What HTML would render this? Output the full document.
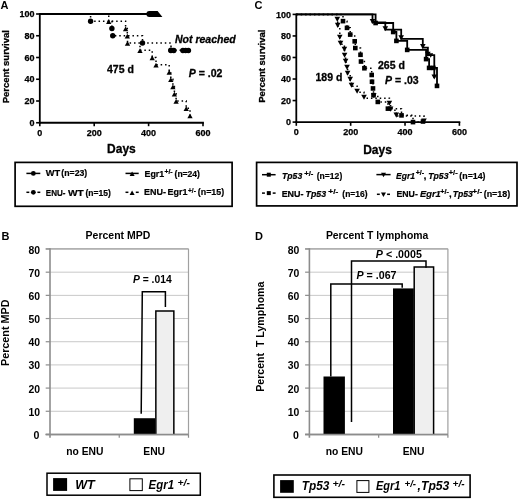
<!DOCTYPE html>
<html><head><meta charset="utf-8"><style>
html,body{margin:0;padding:0;background:#fff;width:520px;height:504px;overflow:hidden}
svg{display:block;filter:grayscale(1)}
text{font-family:"Liberation Sans", sans-serif;fill:#000}
</style></head><body>
<svg width="520" height="504" viewBox="0 0 520 504">
<rect width="520" height="504" fill="#fff"/>
<text x="0.60" y="9.10" font-size="11" font-weight="bold" font-style="normal" text-anchor="start" >A</text>
<line x1="39.80" y1="13.20" x2="39.80" y2="123.60" stroke="#000" stroke-width="1.8" stroke-linecap="butt"/>
<line x1="38.90" y1="122.75" x2="203.90" y2="122.75" stroke="#000" stroke-width="1.8" stroke-linecap="butt"/>
<line x1="36.10" y1="122.75" x2="39.80" y2="122.75" stroke="#000" stroke-width="1.6" stroke-linecap="butt"/>
<text x="34.60" y="125.95" font-size="9" font-weight="bold" font-style="normal" text-anchor="end" stroke="#000" stroke-width="0.25">0</text>
<line x1="36.10" y1="101.00" x2="39.80" y2="101.00" stroke="#000" stroke-width="1.6" stroke-linecap="butt"/>
<text x="34.60" y="104.20" font-size="9" font-weight="bold" font-style="normal" text-anchor="end" stroke="#000" stroke-width="0.25">20</text>
<line x1="36.10" y1="79.25" x2="39.80" y2="79.25" stroke="#000" stroke-width="1.6" stroke-linecap="butt"/>
<text x="34.60" y="82.45" font-size="9" font-weight="bold" font-style="normal" text-anchor="end" stroke="#000" stroke-width="0.25">40</text>
<line x1="36.10" y1="57.50" x2="39.80" y2="57.50" stroke="#000" stroke-width="1.6" stroke-linecap="butt"/>
<text x="34.60" y="60.70" font-size="9" font-weight="bold" font-style="normal" text-anchor="end" stroke="#000" stroke-width="0.25">60</text>
<line x1="36.10" y1="35.75" x2="39.80" y2="35.75" stroke="#000" stroke-width="1.6" stroke-linecap="butt"/>
<text x="34.60" y="38.95" font-size="9" font-weight="bold" font-style="normal" text-anchor="end" stroke="#000" stroke-width="0.25">80</text>
<line x1="36.10" y1="14.00" x2="39.80" y2="14.00" stroke="#000" stroke-width="1.6" stroke-linecap="butt"/>
<text x="34.60" y="17.20" font-size="9" font-weight="bold" font-style="normal" text-anchor="end" stroke="#000" stroke-width="0.25">100</text>
<line x1="39.80" y1="122.75" x2="39.80" y2="126.20" stroke="#000" stroke-width="1.6" stroke-linecap="butt"/>
<text x="39.80" y="136.00" font-size="9" font-weight="bold" font-style="normal" text-anchor="middle" stroke="#000" stroke-width="0.25">0</text>
<line x1="94.20" y1="122.75" x2="94.20" y2="126.20" stroke="#000" stroke-width="1.6" stroke-linecap="butt"/>
<text x="94.20" y="136.00" font-size="9" font-weight="bold" font-style="normal" text-anchor="middle" stroke="#000" stroke-width="0.25">200</text>
<line x1="148.60" y1="122.75" x2="148.60" y2="126.20" stroke="#000" stroke-width="1.6" stroke-linecap="butt"/>
<text x="148.60" y="136.00" font-size="9" font-weight="bold" font-style="normal" text-anchor="middle" stroke="#000" stroke-width="0.25">400</text>
<line x1="203.00" y1="122.75" x2="203.00" y2="126.20" stroke="#000" stroke-width="1.6" stroke-linecap="butt"/>
<text x="203.00" y="136.00" font-size="9" font-weight="bold" font-style="normal" text-anchor="middle" stroke="#000" stroke-width="0.25">600</text>
<text x="121.40" y="153.40" font-size="12" font-weight="bold" font-style="normal" text-anchor="middle" stroke="#000" stroke-width="0.3">Days</text>
<text transform="translate(9.3,66.7) rotate(-90)" font-size="9.6" font-weight="bold" stroke="#000" stroke-width="0.3" text-anchor="middle" textLength="73.2" lengthAdjust="spacingAndGlyphs">Percent survival</text>
<line x1="39.80" y1="13.90" x2="155.00" y2="13.90" stroke="#000" stroke-width="2.0" stroke-linecap="butt"/>
<path d="M149.3,11.1 L157.6,11.1 L162.4,16.9 L149.3,16.9 A2.9,2.9 0 0 1 149.3,11.1 Z" fill="#000"/>
<polyline points="39.80,14.00 90.60,14.00 90.60,21.25 111.90,21.25 111.90,28.50 112.75,28.50 112.75,35.75 142.50,35.75 142.50,43.00 171.00,43.00 171.00,50.25 188.00,50.25" fill="none" stroke="#000" stroke-width="1.5" stroke-linecap="butt" stroke-linejoin="miter" stroke-dasharray="1.5 2.9"/>
<circle cx="90.60" cy="21.25" r="2.7" fill="#000"/>
<circle cx="111.90" cy="28.50" r="2.7" fill="#000"/>
<circle cx="112.75" cy="35.75" r="2.7" fill="#000"/>
<circle cx="142.50" cy="43.00" r="2.7" fill="#000"/>
<circle cx="171.00" cy="50.25" r="2.7" fill="#000"/>
<circle cx="170.90" cy="50.45" r="2.75" fill="#000"/>
<circle cx="173.80" cy="50.45" r="2.75" fill="#000"/>
<circle cx="182.90" cy="50.45" r="2.75" fill="#000"/>
<circle cx="185.60" cy="50.45" r="2.75" fill="#000"/>
<circle cx="188.40" cy="50.45" r="2.75" fill="#000"/>
<polyline points="39.80,14.00 108.75,14.00 108.75,21.25 125.60,21.25 125.60,28.50 127.30,28.50 127.30,35.75 127.50,35.75 127.50,43.00 140.00,43.00 140.00,50.25 152.20,50.25 152.20,57.50 156.00,57.50 156.00,64.75 169.20,64.75 169.20,72.00 170.80,72.00 170.80,79.25 172.90,79.25 172.90,86.50 174.40,86.50 174.40,93.75 176.10,93.75 176.10,101.00 186.20,101.00 186.20,108.25 190.00,108.25 190.00,115.50 193.00,115.50" fill="none" stroke="#000" stroke-width="1.5" stroke-linecap="butt" stroke-linejoin="miter" stroke-dasharray="1.5 2.9"/>
<polygon points="108.75,19.34 106.10,24.11 111.40,24.11" fill="#000"/>
<polygon points="125.60,26.59 122.95,31.36 128.25,31.36" fill="#000"/>
<polygon points="127.30,33.84 124.65,38.61 129.95,38.61" fill="#000"/>
<polygon points="127.50,41.09 124.85,45.86 130.15,45.86" fill="#000"/>
<polygon points="140.00,48.34 137.35,53.11 142.65,53.11" fill="#000"/>
<polygon points="152.20,55.59 149.55,60.36 154.85,60.36" fill="#000"/>
<polygon points="156.00,62.84 153.35,67.61 158.65,67.61" fill="#000"/>
<polygon points="169.20,70.09 166.55,74.86 171.85,74.86" fill="#000"/>
<polygon points="170.80,77.34 168.15,82.11 173.45,82.11" fill="#000"/>
<polygon points="172.90,84.59 170.25,89.36 175.55,89.36" fill="#000"/>
<polygon points="174.40,91.84 171.75,96.61 177.05,96.61" fill="#000"/>
<polygon points="176.10,99.09 173.45,103.86 178.75,103.86" fill="#000"/>
<polygon points="186.20,106.34 183.55,111.11 188.85,111.11" fill="#000"/>
<polygon points="190.00,113.59 187.35,118.36 192.65,118.36" fill="#000"/>
<rect x="15.10" y="162.40" width="217.00" height="43.90" fill="none" stroke="#000" stroke-width="1.7"/>
<line x1="26.40" y1="173.40" x2="40.30" y2="173.40" stroke="#000" stroke-width="1.5" stroke-linecap="butt"/>
<circle cx="33.35" cy="173.40" r="2.4" fill="#000"/>
<line x1="26.40" y1="192.30" x2="29.30" y2="192.30" stroke="#000" stroke-width="1.5" stroke-linecap="butt"/>
<line x1="37.40" y1="192.30" x2="40.30" y2="192.30" stroke="#000" stroke-width="1.5" stroke-linecap="butt"/>
<circle cx="33.35" cy="192.30" r="2.4" fill="#000"/>
<line x1="125.50" y1="173.40" x2="138.70" y2="173.40" stroke="#000" stroke-width="1.5" stroke-linecap="butt"/>
<polygon points="132.10,171.60 129.60,176.10 134.60,176.10" fill="#000"/>
<line x1="125.50" y1="192.30" x2="128.40" y2="192.30" stroke="#000" stroke-width="1.5" stroke-linecap="butt"/>
<line x1="135.80" y1="192.30" x2="138.70" y2="192.30" stroke="#000" stroke-width="1.5" stroke-linecap="butt"/>
<polygon points="132.10,190.50 129.60,195.00 134.60,195.00" fill="#000"/>
<text x="45.85" y="176.40" font-size="8.7" font-weight="bold" font-style="normal" textLength="14.40" lengthAdjust="spacingAndGlyphs" stroke="#000" stroke-width="0.2">WT</text>
<text x="61.35" y="176.40" font-size="8.7" font-weight="bold" font-style="normal" textLength="25.90" lengthAdjust="spacingAndGlyphs" stroke="#000" stroke-width="0.2">(n=23)</text>
<text x="45.85" y="195.50" font-size="8.7" font-weight="bold" font-style="normal" textLength="19.70" lengthAdjust="spacingAndGlyphs" stroke="#000" stroke-width="0.2">ENU-</text>
<text x="67.95" y="195.50" font-size="8.7" font-weight="bold" font-style="normal" textLength="15.80" lengthAdjust="spacingAndGlyphs" stroke="#000" stroke-width="0.2">WT</text>
<text x="85.45" y="195.50" font-size="8.7" font-weight="bold" font-style="normal" textLength="25.40" lengthAdjust="spacingAndGlyphs" stroke="#000" stroke-width="0.2">(n=15)</text>
<text x="144.55" y="176.50" font-size="8.7" font-weight="bold" font-style="normal" textLength="19.70" lengthAdjust="spacingAndGlyphs" stroke="#000" stroke-width="0.2">Egr1</text>
<text x="164.45" y="174.00" font-size="6.8" font-weight="bold" font-style="normal" textLength="8.20" lengthAdjust="spacingAndGlyphs" stroke="#000" stroke-width="0.2">+/-</text>
<text x="174.55" y="176.50" font-size="8.7" font-weight="bold" font-style="normal" textLength="25.40" lengthAdjust="spacingAndGlyphs" stroke="#000" stroke-width="0.2">(n=24)</text>
<text x="144.05" y="195.30" font-size="8.7" font-weight="bold" font-style="normal" textLength="22.00" lengthAdjust="spacingAndGlyphs" stroke="#000" stroke-width="0.2">ENU-</text>
<text x="167.55" y="195.30" font-size="8.7" font-weight="bold" font-style="normal" textLength="19.90" lengthAdjust="spacingAndGlyphs" stroke="#000" stroke-width="0.2">Egr1</text>
<text x="188.05" y="192.80" font-size="6.8" font-weight="bold" font-style="normal" textLength="7.80" lengthAdjust="spacingAndGlyphs" stroke="#000" stroke-width="0.2">+/-</text>
<text x="197.75" y="195.30" font-size="8.7" font-weight="bold" font-style="normal" textLength="26.40" lengthAdjust="spacingAndGlyphs" stroke="#000" stroke-width="0.2">(n=15)</text>
<text x="175.00" y="42.70" font-size="10.5" font-weight="bold" font-style="italic" text-anchor="start" stroke="#000" stroke-width="0.3">Not reached</text>
<text x="107.00" y="72.70" font-size="10.5" font-weight="bold" font-style="normal" text-anchor="start" stroke="#000" stroke-width="0.3">475 d</text>
<text x="188.80" y="76.80" font-size="10.5" font-weight="bold" font-style="normal" text-anchor="start" stroke="#000" stroke-width="0.3"><tspan font-style="italic">P</tspan> = .02</text>
<text x="254.50" y="9.40" font-size="11" font-weight="bold" font-style="normal" text-anchor="start" >C</text>
<line x1="296.30" y1="13.60" x2="296.30" y2="123.00" stroke="#000" stroke-width="1.8" stroke-linecap="butt"/>
<line x1="295.40" y1="122.10" x2="460.30" y2="122.10" stroke="#000" stroke-width="1.8" stroke-linecap="butt"/>
<line x1="292.60" y1="122.10" x2="296.30" y2="122.10" stroke="#000" stroke-width="1.6" stroke-linecap="butt"/>
<text x="291.10" y="125.30" font-size="9" font-weight="bold" font-style="normal" text-anchor="end" stroke="#000" stroke-width="0.25">0</text>
<line x1="292.60" y1="100.56" x2="296.30" y2="100.56" stroke="#000" stroke-width="1.6" stroke-linecap="butt"/>
<text x="291.10" y="103.76" font-size="9" font-weight="bold" font-style="normal" text-anchor="end" stroke="#000" stroke-width="0.25">20</text>
<line x1="292.60" y1="79.02" x2="296.30" y2="79.02" stroke="#000" stroke-width="1.6" stroke-linecap="butt"/>
<text x="291.10" y="82.22" font-size="9" font-weight="bold" font-style="normal" text-anchor="end" stroke="#000" stroke-width="0.25">40</text>
<line x1="292.60" y1="57.48" x2="296.30" y2="57.48" stroke="#000" stroke-width="1.6" stroke-linecap="butt"/>
<text x="291.10" y="60.68" font-size="9" font-weight="bold" font-style="normal" text-anchor="end" stroke="#000" stroke-width="0.25">60</text>
<line x1="292.60" y1="35.94" x2="296.30" y2="35.94" stroke="#000" stroke-width="1.6" stroke-linecap="butt"/>
<text x="291.10" y="39.14" font-size="9" font-weight="bold" font-style="normal" text-anchor="end" stroke="#000" stroke-width="0.25">80</text>
<line x1="292.60" y1="14.40" x2="296.30" y2="14.40" stroke="#000" stroke-width="1.6" stroke-linecap="butt"/>
<text x="291.10" y="17.60" font-size="9" font-weight="bold" font-style="normal" text-anchor="end" stroke="#000" stroke-width="0.25">100</text>
<line x1="296.30" y1="122.10" x2="296.30" y2="125.80" stroke="#000" stroke-width="1.6" stroke-linecap="butt"/>
<text x="296.30" y="135.00" font-size="9" font-weight="bold" font-style="normal" text-anchor="middle" stroke="#000" stroke-width="0.25">0</text>
<line x1="350.67" y1="122.10" x2="350.67" y2="125.80" stroke="#000" stroke-width="1.6" stroke-linecap="butt"/>
<text x="350.67" y="135.00" font-size="9" font-weight="bold" font-style="normal" text-anchor="middle" stroke="#000" stroke-width="0.25">200</text>
<line x1="405.03" y1="122.10" x2="405.03" y2="125.80" stroke="#000" stroke-width="1.6" stroke-linecap="butt"/>
<text x="405.03" y="135.00" font-size="9" font-weight="bold" font-style="normal" text-anchor="middle" stroke="#000" stroke-width="0.25">400</text>
<line x1="459.40" y1="122.10" x2="459.40" y2="125.80" stroke="#000" stroke-width="1.6" stroke-linecap="butt"/>
<text x="459.40" y="135.00" font-size="9" font-weight="bold" font-style="normal" text-anchor="middle" stroke="#000" stroke-width="0.25">600</text>
<text x="377.50" y="154.00" font-size="12" font-weight="bold" font-style="normal" text-anchor="middle" stroke="#000" stroke-width="0.3">Days</text>
<text transform="translate(264.8,66.2) rotate(-90)" font-size="9.6" font-weight="bold" stroke="#000" stroke-width="0.3" text-anchor="middle" textLength="73.2" lengthAdjust="spacingAndGlyphs">Percent survival</text>
<polyline points="296.30,14.40 375.60,14.40 375.60,23.00 393.20,23.00 393.20,32.00 396.40,32.00 396.40,40.90 407.20,40.90 407.20,49.90 426.10,49.90 426.10,59.10 429.10,59.10 429.10,67.90 437.00,67.90 437.00,85.90" fill="none" stroke="#000" stroke-width="1.8" stroke-linecap="butt" stroke-linejoin="miter"/>
<rect x="373.30" y="20.70" width="4.6" height="4.6" fill="#000"/>
<rect x="390.90" y="29.70" width="4.6" height="4.6" fill="#000"/>
<rect x="394.10" y="38.60" width="4.6" height="4.6" fill="#000"/>
<rect x="404.90" y="47.60" width="4.6" height="4.6" fill="#000"/>
<rect x="423.80" y="56.80" width="4.6" height="4.6" fill="#000"/>
<rect x="426.80" y="65.60" width="4.6" height="4.6" fill="#000"/>
<rect x="434.70" y="83.60" width="4.6" height="4.6" fill="#000"/>
<rect x="431.00" y="65.60" width="4.6" height="4.6" fill="#000"/>
<polyline points="296.30,14.40 372.50,14.40 372.50,22.40 385.30,22.40 385.30,29.70 401.20,29.70 401.20,38.80 422.80,38.80 422.80,47.60 427.90,47.60 427.90,55.20 434.30,55.20 434.30,78.00" fill="none" stroke="#000" stroke-width="1.8" stroke-linecap="butt" stroke-linejoin="miter"/>
<polygon points="372.50,23.92 369.70,18.88 375.30,18.88" fill="#000"/>
<polygon points="385.30,31.22 382.50,26.18 388.10,26.18" fill="#000"/>
<polygon points="401.20,40.32 398.40,35.28 404.00,35.28" fill="#000"/>
<polygon points="422.80,49.12 420.00,44.08 425.60,44.08" fill="#000"/>
<polygon points="427.90,56.72 425.10,51.68 430.70,51.68" fill="#000"/>
<polygon points="434.30,79.52 431.50,74.48 437.10,74.48" fill="#000"/>
<polygon points="430.70,57.70 428.20,53.20 433.20,53.20" fill="#000"/>
<polyline points="296.30,14.40 343.00,14.40 343.00,21.13 347.00,21.13 347.00,27.86 350.20,27.86 350.20,34.59 354.70,34.59 354.70,41.33 355.30,41.33 355.30,48.06 360.50,48.06 360.50,54.79 361.00,54.79 361.00,61.52 364.40,61.52 364.40,68.25 371.70,68.25 371.70,74.98 372.00,74.98 372.00,81.71 373.00,81.71 373.00,88.44 373.50,88.44 373.50,95.17 377.80,95.17 377.80,101.91 387.90,101.91 387.90,108.64 401.50,108.64 401.50,115.37 413.00,115.37 413.00,122.10 423.00,122.10" fill="none" stroke="#000" stroke-width="1.5" stroke-linecap="butt" stroke-linejoin="miter" stroke-dasharray="1.5 2.9"/>
<rect x="340.70" y="18.83" width="4.6" height="4.6" fill="#000"/>
<rect x="344.70" y="25.56" width="4.6" height="4.6" fill="#000"/>
<rect x="347.90" y="32.29" width="4.6" height="4.6" fill="#000"/>
<rect x="352.40" y="39.03" width="4.6" height="4.6" fill="#000"/>
<rect x="353.00" y="45.76" width="4.6" height="4.6" fill="#000"/>
<rect x="358.20" y="52.49" width="4.6" height="4.6" fill="#000"/>
<rect x="358.70" y="59.22" width="4.6" height="4.6" fill="#000"/>
<rect x="362.10" y="65.95" width="4.6" height="4.6" fill="#000"/>
<rect x="369.40" y="72.68" width="4.6" height="4.6" fill="#000"/>
<rect x="369.70" y="79.41" width="4.6" height="4.6" fill="#000"/>
<rect x="370.70" y="86.14" width="4.6" height="4.6" fill="#000"/>
<rect x="371.20" y="92.88" width="4.6" height="4.6" fill="#000"/>
<rect x="375.50" y="99.61" width="4.6" height="4.6" fill="#000"/>
<rect x="385.60" y="106.34" width="4.6" height="4.6" fill="#000"/>
<rect x="399.20" y="113.07" width="4.6" height="4.6" fill="#000"/>
<rect x="410.70" y="119.80" width="4.6" height="4.6" fill="#000"/>
<rect x="420.70" y="119.20" width="4.6" height="4.6" fill="#000"/>
<polyline points="296.30,14.40 337.30,14.40 337.30,20.38 337.70,20.38 337.70,26.37 339.80,26.37 339.80,38.33 340.50,38.33 340.50,44.32 344.40,44.32 344.40,50.30 344.60,50.30 344.60,56.28 345.60,56.28 345.60,62.27 347.00,62.27 347.00,68.25 347.60,68.25 347.60,74.23 350.20,74.23 350.20,80.22 351.50,80.22 351.50,86.20 357.10,86.20 357.10,92.18 364.00,92.18 364.00,98.17 389.40,98.17 389.40,104.15 390.60,104.15 390.60,110.13 396.30,110.13 396.30,116.12 424.00,116.12 424.00,122.10" fill="none" stroke="#000" stroke-width="1.5" stroke-linecap="butt" stroke-linejoin="miter" stroke-dasharray="1.5 2.9"/>
<polygon points="337.30,21.91 334.50,16.87 340.10,16.87" fill="#000"/>
<polygon points="337.70,27.89 334.90,22.85 340.50,22.85" fill="#000"/>
<polygon points="339.80,39.86 337.00,34.82 342.60,34.82" fill="#000"/>
<polygon points="340.50,45.84 337.70,40.80 343.30,40.80" fill="#000"/>
<polygon points="344.40,51.82 341.60,46.78 347.20,46.78" fill="#000"/>
<polygon points="344.60,57.81 341.80,52.77 347.40,52.77" fill="#000"/>
<polygon points="345.60,63.79 342.80,58.75 348.40,58.75" fill="#000"/>
<polygon points="347.00,69.77 344.20,64.73 349.80,64.73" fill="#000"/>
<polygon points="347.60,75.76 344.80,70.72 350.40,70.72" fill="#000"/>
<polygon points="350.20,81.74 347.40,76.70 353.00,76.70" fill="#000"/>
<polygon points="351.50,87.72 348.70,82.68 354.30,82.68" fill="#000"/>
<polygon points="357.10,93.71 354.30,88.67 359.90,88.67" fill="#000"/>
<polygon points="364.00,99.69 361.20,94.65 366.80,94.65" fill="#000"/>
<polygon points="389.40,105.67 386.60,100.63 392.20,100.63" fill="#000"/>
<polygon points="390.60,111.66 387.80,106.62 393.40,106.62" fill="#000"/>
<polygon points="396.30,117.64 393.50,112.60 399.10,112.60" fill="#000"/>
<polygon points="424.00,123.62 421.20,118.58 426.80,118.58" fill="#000"/>
<polygon points="373.80,98.22 371.00,93.18 376.60,93.18" fill="#000"/>
<text x="378.00" y="69.10" font-size="10.5" font-weight="bold" font-style="normal" text-anchor="start" stroke="#000" stroke-width="0.3">265 d</text>
<text x="315.50" y="80.70" font-size="10.5" font-weight="bold" font-style="normal" text-anchor="start" stroke="#000" stroke-width="0.3">189 d</text>
<text x="385.00" y="83.60" font-size="10.5" font-weight="bold" font-style="normal" text-anchor="start" stroke="#000" stroke-width="0.3"><tspan font-style="italic">P</tspan> = .03</text>
<rect x="256.60" y="162.40" width="260.40" height="43.50" fill="none" stroke="#000" stroke-width="1.7"/>
<line x1="262.00" y1="174.70" x2="275.60" y2="174.70" stroke="#000" stroke-width="1.5" stroke-linecap="butt"/>
<rect x="266.80" y="172.70" width="4.0" height="4.0" fill="#000"/>
<line x1="262.00" y1="193.10" x2="264.90" y2="193.10" stroke="#000" stroke-width="1.5" stroke-linecap="butt"/>
<line x1="272.70" y1="193.10" x2="275.60" y2="193.10" stroke="#000" stroke-width="1.5" stroke-linecap="butt"/>
<rect x="266.80" y="191.10" width="4.0" height="4.0" fill="#000"/>
<line x1="376.40" y1="174.60" x2="390.60" y2="174.60" stroke="#000" stroke-width="1.5" stroke-linecap="butt"/>
<polygon points="383.50,177.30 381.00,172.80 386.00,172.80" fill="#000"/>
<line x1="376.90" y1="194.30" x2="379.80" y2="194.30" stroke="#000" stroke-width="1.5" stroke-linecap="butt"/>
<line x1="387.10" y1="194.30" x2="390.00" y2="194.30" stroke="#000" stroke-width="1.5" stroke-linecap="butt"/>
<polygon points="383.45,197.00 380.95,192.50 385.95,192.50" fill="#000"/>
<text x="282.05" y="178.80" font-size="8.7" font-weight="bold" font-style="italic" textLength="20.20" lengthAdjust="spacingAndGlyphs" stroke="#000" stroke-width="0.2">Tp53</text>
<text x="304.15" y="176.00" font-size="6.8" font-weight="bold" font-style="normal" textLength="9.20" lengthAdjust="spacingAndGlyphs" stroke="#000" stroke-width="0.2">+/-</text>
<text x="316.75" y="178.80" font-size="8.7" font-weight="bold" font-style="normal" textLength="25.50" lengthAdjust="spacingAndGlyphs" stroke="#000" stroke-width="0.2">(n=12)</text>
<text x="281.65" y="197.20" font-size="8.7" font-weight="bold" font-style="normal" textLength="21.90" lengthAdjust="spacingAndGlyphs" stroke="#000" stroke-width="0.2">ENU-</text>
<text x="305.55" y="197.20" font-size="8.7" font-weight="bold" font-style="italic" textLength="20.60" lengthAdjust="spacingAndGlyphs" stroke="#000" stroke-width="0.2">Tp53</text>
<text x="328.35" y="194.00" font-size="6.8" font-weight="bold" font-style="normal" textLength="9.90" lengthAdjust="spacingAndGlyphs" stroke="#000" stroke-width="0.2">+/-</text>
<text x="342.35" y="197.20" font-size="8.7" font-weight="bold" font-style="normal" textLength="25.20" lengthAdjust="spacingAndGlyphs" stroke="#000" stroke-width="0.2">(n=16)</text>
<text x="396.05" y="178.50" font-size="8.7" font-weight="bold" font-style="italic" textLength="18.90" lengthAdjust="spacingAndGlyphs" stroke="#000" stroke-width="0.2">Egr1</text>
<text x="415.75" y="174.80" font-size="6.8" font-weight="bold" font-style="normal" textLength="8.40" lengthAdjust="spacingAndGlyphs" stroke="#000" stroke-width="0.2">+/-</text>
<text x="423.55" y="178.50" font-size="8.7" font-weight="bold" font-style="normal" textLength="3.00" lengthAdjust="spacingAndGlyphs" stroke="#000" stroke-width="0.2">,</text>
<text x="428.25" y="178.50" font-size="8.7" font-weight="bold" font-style="italic" textLength="20.30" lengthAdjust="spacingAndGlyphs" stroke="#000" stroke-width="0.2">Tp53</text>
<text x="448.75" y="174.80" font-size="6.8" font-weight="bold" font-style="normal" textLength="8.90" lengthAdjust="spacingAndGlyphs" stroke="#000" stroke-width="0.2">+/-</text>
<text x="459.35" y="178.50" font-size="8.7" font-weight="bold" font-style="normal" textLength="26.20" lengthAdjust="spacingAndGlyphs" stroke="#000" stroke-width="0.2">(n=14)</text>
<text x="396.45" y="197.20" font-size="8.7" font-weight="bold" font-style="normal" textLength="21.40" lengthAdjust="spacingAndGlyphs" stroke="#000" stroke-width="0.2">ENU-</text>
<text x="420.05" y="197.20" font-size="8.7" font-weight="bold" font-style="italic" textLength="20.70" lengthAdjust="spacingAndGlyphs" stroke="#000" stroke-width="0.2">Egr1</text>
<text x="440.35" y="193.60" font-size="6.8" font-weight="bold" font-style="normal" textLength="8.70" lengthAdjust="spacingAndGlyphs" stroke="#000" stroke-width="0.2">+/-</text>
<text x="449.05" y="197.20" font-size="8.7" font-weight="bold" font-style="normal" textLength="2.70" lengthAdjust="spacingAndGlyphs" stroke="#000" stroke-width="0.2">,</text>
<text x="452.65" y="197.20" font-size="8.7" font-weight="bold" font-style="italic" textLength="20.20" lengthAdjust="spacingAndGlyphs" stroke="#000" stroke-width="0.2">Tp53</text>
<text x="472.35" y="193.60" font-size="6.8" font-weight="bold" font-style="normal" textLength="9.80" lengthAdjust="spacingAndGlyphs" stroke="#000" stroke-width="0.2">+/-</text>
<text x="483.65" y="197.20" font-size="8.7" font-weight="bold" font-style="normal" textLength="26.70" lengthAdjust="spacingAndGlyphs" stroke="#000" stroke-width="0.2">(n=18)</text>
<line x1="50.00" y1="411.27" x2="188.50" y2="411.27" stroke="#c8c8c8" stroke-width="1.0" stroke-linecap="butt"/>
<line x1="50.00" y1="388.09" x2="188.50" y2="388.09" stroke="#c8c8c8" stroke-width="1.0" stroke-linecap="butt"/>
<line x1="50.00" y1="364.91" x2="188.50" y2="364.91" stroke="#c8c8c8" stroke-width="1.0" stroke-linecap="butt"/>
<line x1="50.00" y1="341.73" x2="188.50" y2="341.73" stroke="#c8c8c8" stroke-width="1.0" stroke-linecap="butt"/>
<line x1="50.00" y1="318.54" x2="188.50" y2="318.54" stroke="#c8c8c8" stroke-width="1.0" stroke-linecap="butt"/>
<line x1="50.00" y1="295.36" x2="188.50" y2="295.36" stroke="#c8c8c8" stroke-width="1.0" stroke-linecap="butt"/>
<line x1="50.00" y1="272.18" x2="188.50" y2="272.18" stroke="#c8c8c8" stroke-width="1.0" stroke-linecap="butt"/>
<line x1="50.00" y1="249.00" x2="188.50" y2="249.00" stroke="#c8c8c8" stroke-width="1.0" stroke-linecap="butt"/>
<line x1="188.50" y1="248.80" x2="188.50" y2="434.45" stroke="#a0a0a0" stroke-width="1.2" stroke-linecap="butt"/>
<line x1="45.70" y1="248.80" x2="188.50" y2="248.80" stroke="#a0a0a0" stroke-width="1.2" stroke-linecap="butt"/>
<line x1="50.00" y1="248.20" x2="50.00" y2="437.75" stroke="#8c8c8c" stroke-width="1.6" stroke-linecap="butt"/>
<line x1="45.70" y1="434.45" x2="188.50" y2="434.45" stroke="#8c8c8c" stroke-width="1.6" stroke-linecap="butt"/>
<line x1="45.70" y1="434.45" x2="50.00" y2="434.45" stroke="#8c8c8c" stroke-width="1.2" stroke-linecap="butt"/>
<text x="39.40" y="438.85" font-size="10.3" font-weight="bold" font-style="normal" text-anchor="end" textLength="5.9" lengthAdjust="spacingAndGlyphs">0</text>
<line x1="45.70" y1="411.27" x2="50.00" y2="411.27" stroke="#8c8c8c" stroke-width="1.2" stroke-linecap="butt"/>
<text x="40.00" y="415.77" font-size="10.3" font-weight="bold" font-style="normal" text-anchor="end" textLength="11.6" lengthAdjust="spacingAndGlyphs">10</text>
<line x1="45.70" y1="388.09" x2="50.00" y2="388.09" stroke="#8c8c8c" stroke-width="1.2" stroke-linecap="butt"/>
<text x="40.00" y="392.59" font-size="10.3" font-weight="bold" font-style="normal" text-anchor="end" textLength="11.6" lengthAdjust="spacingAndGlyphs">20</text>
<line x1="45.70" y1="364.91" x2="50.00" y2="364.91" stroke="#8c8c8c" stroke-width="1.2" stroke-linecap="butt"/>
<text x="40.00" y="369.41" font-size="10.3" font-weight="bold" font-style="normal" text-anchor="end" textLength="11.6" lengthAdjust="spacingAndGlyphs">30</text>
<line x1="45.70" y1="341.73" x2="50.00" y2="341.73" stroke="#8c8c8c" stroke-width="1.2" stroke-linecap="butt"/>
<text x="40.00" y="346.23" font-size="10.3" font-weight="bold" font-style="normal" text-anchor="end" textLength="11.6" lengthAdjust="spacingAndGlyphs">40</text>
<line x1="45.70" y1="318.54" x2="50.00" y2="318.54" stroke="#8c8c8c" stroke-width="1.2" stroke-linecap="butt"/>
<text x="40.00" y="323.04" font-size="10.3" font-weight="bold" font-style="normal" text-anchor="end" textLength="11.6" lengthAdjust="spacingAndGlyphs">50</text>
<line x1="45.70" y1="295.36" x2="50.00" y2="295.36" stroke="#8c8c8c" stroke-width="1.2" stroke-linecap="butt"/>
<text x="40.00" y="299.86" font-size="10.3" font-weight="bold" font-style="normal" text-anchor="end" textLength="11.6" lengthAdjust="spacingAndGlyphs">60</text>
<line x1="45.70" y1="272.18" x2="50.00" y2="272.18" stroke="#8c8c8c" stroke-width="1.2" stroke-linecap="butt"/>
<text x="40.00" y="276.68" font-size="10.3" font-weight="bold" font-style="normal" text-anchor="end" textLength="11.6" lengthAdjust="spacingAndGlyphs">70</text>
<line x1="45.70" y1="249.00" x2="50.00" y2="249.00" stroke="#8c8c8c" stroke-width="1.2" stroke-linecap="butt"/>
<text x="40.00" y="253.50" font-size="10.3" font-weight="bold" font-style="normal" text-anchor="end" textLength="11.6" lengthAdjust="spacingAndGlyphs">80</text>
<line x1="119.25" y1="434.45" x2="119.25" y2="437.75" stroke="#8c8c8c" stroke-width="1.2" stroke-linecap="butt"/>
<line x1="188.50" y1="434.45" x2="188.50" y2="437.75" stroke="#8c8c8c" stroke-width="1.2" stroke-linecap="butt"/>
<text x="85.60" y="239.40" font-size="10.3" font-weight="bold" font-style="normal" text-anchor="start" textLength="64.8" lengthAdjust="spacingAndGlyphs">Percent MPD</text>
<text x="84.92" y="454.80" font-size="10.3" font-weight="bold" font-style="normal" text-anchor="middle" >no ENU</text>
<text x="154.18" y="454.80" font-size="10.3" font-weight="bold" font-style="normal" text-anchor="middle" >ENU</text>
<text transform="translate(8.60,332.8) rotate(-90)" font-size="10.3" font-weight="bold" text-anchor="middle" textLength="66.5" lengthAdjust="spacingAndGlyphs">Percent MPD</text>
<text x="1.50" y="240.00" font-size="11" font-weight="bold" font-style="normal" text-anchor="start" >B</text>
<rect x="133.80" y="418.22" width="21.30" height="16.23" fill="#000"/>
<rect x="155.85" y="310.89" width="18.00" height="123.56" fill="#efefef"/>
<polyline points="155.85,434.45 155.85,310.89 173.85,310.89 173.85,434.45" fill="none" stroke="#000" stroke-width="1.5" stroke-linecap="butt" stroke-linejoin="miter"/>
<polyline points="141.20,413.80 142.30,291.80 165.40,291.80 165.40,307.00" fill="none" stroke="#000" stroke-width="1.5" stroke-linecap="butt" stroke-linejoin="miter"/>
<text x="133.00" y="283.00" font-size="10.3" font-weight="bold" font-style="normal" text-anchor="start" ><tspan font-style="italic">P</tspan> = .014</text>
<line x1="45.70" y1="434.45" x2="188.50" y2="434.45" stroke="#8c8c8c" stroke-width="1.6" stroke-linecap="butt"/>
<rect x="47.00" y="473.20" width="153.30" height="22.00" fill="#fff" stroke="#000" stroke-width="1.5"/>
<rect x="53.10" y="478.10" width="14.00" height="12.80" fill="#000"/>
<rect x="129.90" y="478.80" width="12.40" height="11.80" fill="#fff" stroke="#000" stroke-width="1.0"/>
<text x="75.20" y="488.90" font-size="12.2" font-weight="bold" font-style="italic" text-anchor="start" textLength="19.6" lengthAdjust="spacingAndGlyphs">WT</text>
<text x="148.60" y="488.90" font-size="12.2" font-weight="bold" font-style="italic" text-anchor="start" textLength="25.4" lengthAdjust="spacingAndGlyphs">Egr1</text>
<text x="177.50" y="485.60" font-size="8.2" font-weight="bold" font-style="italic" text-anchor="start" textLength="12.4" lengthAdjust="spacingAndGlyphs">+/-</text>
<line x1="309.40" y1="411.27" x2="447.90" y2="411.27" stroke="#c8c8c8" stroke-width="1.0" stroke-linecap="butt"/>
<line x1="309.40" y1="388.09" x2="447.90" y2="388.09" stroke="#c8c8c8" stroke-width="1.0" stroke-linecap="butt"/>
<line x1="309.40" y1="364.91" x2="447.90" y2="364.91" stroke="#c8c8c8" stroke-width="1.0" stroke-linecap="butt"/>
<line x1="309.40" y1="341.73" x2="447.90" y2="341.73" stroke="#c8c8c8" stroke-width="1.0" stroke-linecap="butt"/>
<line x1="309.40" y1="318.54" x2="447.90" y2="318.54" stroke="#c8c8c8" stroke-width="1.0" stroke-linecap="butt"/>
<line x1="309.40" y1="295.36" x2="447.90" y2="295.36" stroke="#c8c8c8" stroke-width="1.0" stroke-linecap="butt"/>
<line x1="309.40" y1="272.18" x2="447.90" y2="272.18" stroke="#c8c8c8" stroke-width="1.0" stroke-linecap="butt"/>
<line x1="309.40" y1="249.00" x2="447.90" y2="249.00" stroke="#c8c8c8" stroke-width="1.0" stroke-linecap="butt"/>
<line x1="447.90" y1="248.80" x2="447.90" y2="434.45" stroke="#a0a0a0" stroke-width="1.2" stroke-linecap="butt"/>
<line x1="305.10" y1="248.80" x2="447.90" y2="248.80" stroke="#a0a0a0" stroke-width="1.2" stroke-linecap="butt"/>
<line x1="309.40" y1="248.20" x2="309.40" y2="437.75" stroke="#8c8c8c" stroke-width="1.6" stroke-linecap="butt"/>
<line x1="305.10" y1="434.45" x2="447.90" y2="434.45" stroke="#8c8c8c" stroke-width="1.6" stroke-linecap="butt"/>
<line x1="305.10" y1="434.45" x2="309.40" y2="434.45" stroke="#8c8c8c" stroke-width="1.2" stroke-linecap="butt"/>
<text x="298.80" y="438.85" font-size="10.3" font-weight="bold" font-style="normal" text-anchor="end" textLength="5.9" lengthAdjust="spacingAndGlyphs">0</text>
<line x1="305.10" y1="411.27" x2="309.40" y2="411.27" stroke="#8c8c8c" stroke-width="1.2" stroke-linecap="butt"/>
<text x="299.40" y="415.77" font-size="10.3" font-weight="bold" font-style="normal" text-anchor="end" textLength="11.6" lengthAdjust="spacingAndGlyphs">10</text>
<line x1="305.10" y1="388.09" x2="309.40" y2="388.09" stroke="#8c8c8c" stroke-width="1.2" stroke-linecap="butt"/>
<text x="299.40" y="392.59" font-size="10.3" font-weight="bold" font-style="normal" text-anchor="end" textLength="11.6" lengthAdjust="spacingAndGlyphs">20</text>
<line x1="305.10" y1="364.91" x2="309.40" y2="364.91" stroke="#8c8c8c" stroke-width="1.2" stroke-linecap="butt"/>
<text x="299.40" y="369.41" font-size="10.3" font-weight="bold" font-style="normal" text-anchor="end" textLength="11.6" lengthAdjust="spacingAndGlyphs">30</text>
<line x1="305.10" y1="341.73" x2="309.40" y2="341.73" stroke="#8c8c8c" stroke-width="1.2" stroke-linecap="butt"/>
<text x="299.40" y="346.23" font-size="10.3" font-weight="bold" font-style="normal" text-anchor="end" textLength="11.6" lengthAdjust="spacingAndGlyphs">40</text>
<line x1="305.10" y1="318.54" x2="309.40" y2="318.54" stroke="#8c8c8c" stroke-width="1.2" stroke-linecap="butt"/>
<text x="299.40" y="323.04" font-size="10.3" font-weight="bold" font-style="normal" text-anchor="end" textLength="11.6" lengthAdjust="spacingAndGlyphs">50</text>
<line x1="305.10" y1="295.36" x2="309.40" y2="295.36" stroke="#8c8c8c" stroke-width="1.2" stroke-linecap="butt"/>
<text x="299.40" y="299.86" font-size="10.3" font-weight="bold" font-style="normal" text-anchor="end" textLength="11.6" lengthAdjust="spacingAndGlyphs">60</text>
<line x1="305.10" y1="272.18" x2="309.40" y2="272.18" stroke="#8c8c8c" stroke-width="1.2" stroke-linecap="butt"/>
<text x="299.40" y="276.68" font-size="10.3" font-weight="bold" font-style="normal" text-anchor="end" textLength="11.6" lengthAdjust="spacingAndGlyphs">70</text>
<line x1="305.10" y1="249.00" x2="309.40" y2="249.00" stroke="#8c8c8c" stroke-width="1.2" stroke-linecap="butt"/>
<text x="299.40" y="253.50" font-size="10.3" font-weight="bold" font-style="normal" text-anchor="end" textLength="11.6" lengthAdjust="spacingAndGlyphs">80</text>
<line x1="378.65" y1="434.45" x2="378.65" y2="437.75" stroke="#8c8c8c" stroke-width="1.2" stroke-linecap="butt"/>
<line x1="447.90" y1="434.45" x2="447.90" y2="437.75" stroke="#8c8c8c" stroke-width="1.2" stroke-linecap="butt"/>
<text x="325.90" y="239.40" font-size="10.3" font-weight="bold" font-style="normal" text-anchor="start" textLength="102.4" lengthAdjust="spacingAndGlyphs">Percent T lymphoma</text>
<text x="344.32" y="454.80" font-size="10.3" font-weight="bold" font-style="normal" text-anchor="middle" >no ENU</text>
<text x="413.57" y="454.80" font-size="10.3" font-weight="bold" font-style="normal" text-anchor="middle" >ENU</text>
<text transform="translate(263.60,336.7) rotate(-90)" font-size="10.3" font-weight="bold" text-anchor="middle" textLength="110.2" lengthAdjust="spacingAndGlyphs">Percent&#160; T Lymphoma</text>
<text x="255.00" y="240.00" font-size="11" font-weight="bold" font-style="normal" text-anchor="start" >D</text>
<rect x="323.50" y="376.50" width="21.40" height="57.95" fill="#000"/>
<rect x="393.00" y="288.41" width="20.80" height="146.04" fill="#000"/>
<rect x="414.20" y="267.08" width="19.40" height="167.37" fill="#efefef"/>
<polyline points="414.20,434.45 414.20,267.08 433.60,267.08 433.60,434.45" fill="none" stroke="#000" stroke-width="1.5" stroke-linecap="butt" stroke-linejoin="miter"/>
<polyline points="330.80,376.50 330.80,283.90 402.20,283.90 402.20,287.70" fill="none" stroke="#000" stroke-width="1.5" stroke-linecap="butt" stroke-linejoin="miter"/>
<polyline points="351.50,422.00 351.50,261.00 426.00,261.00 426.00,267.70" fill="none" stroke="#000" stroke-width="1.5" stroke-linecap="butt" stroke-linejoin="miter"/>
<line x1="305.10" y1="434.45" x2="447.90" y2="434.45" stroke="#8c8c8c" stroke-width="1.6" stroke-linecap="butt"/>
<text x="356.55" y="278.60" font-size="10.3" font-weight="bold" font-style="normal" textLength="40.00" lengthAdjust="spacingAndGlyphs"><tspan font-style="italic">P</tspan> = .067</text>
<text x="375.85" y="257.50" font-size="10.3" font-weight="bold" font-style="normal" textLength="46.00" lengthAdjust="spacingAndGlyphs"><tspan font-style="italic">P</tspan> &lt; .0005</text>
<rect x="273.90" y="475.00" width="196.20" height="22.30" fill="#fff" stroke="#000" stroke-width="1.6"/>
<rect x="280.10" y="480.10" width="13.70" height="12.70" fill="#000"/>
<rect x="356.90" y="480.60" width="12.00" height="11.80" fill="#fff" stroke="#000" stroke-width="1.0"/>
<text x="301.80" y="489.90" font-size="12.2" font-weight="bold" font-style="italic" text-anchor="start" textLength="27.6" lengthAdjust="spacingAndGlyphs">Tp53</text>
<text x="332.40" y="486.60" font-size="8.2" font-weight="bold" font-style="italic" text-anchor="start" textLength="12.6" lengthAdjust="spacingAndGlyphs">+/-</text>
<text x="376.00" y="490.30" font-size="12.2" font-weight="bold" font-style="italic" text-anchor="start" textLength="24.4" lengthAdjust="spacingAndGlyphs">Egr1</text>
<text x="404.50" y="486.60" font-size="8.2" font-weight="bold" font-style="italic" text-anchor="start" textLength="11.6" lengthAdjust="spacingAndGlyphs">+/-</text>
<text x="417.60" y="490.30" font-size="12.2" font-weight="bold" font-style="italic" text-anchor="start" textLength="31.8" lengthAdjust="spacingAndGlyphs">,Tp53</text>
<text x="452.60" y="486.60" font-size="8.2" font-weight="bold" font-style="italic" text-anchor="start" textLength="12.0" lengthAdjust="spacingAndGlyphs">+/-</text>
</svg>
</body></html>
